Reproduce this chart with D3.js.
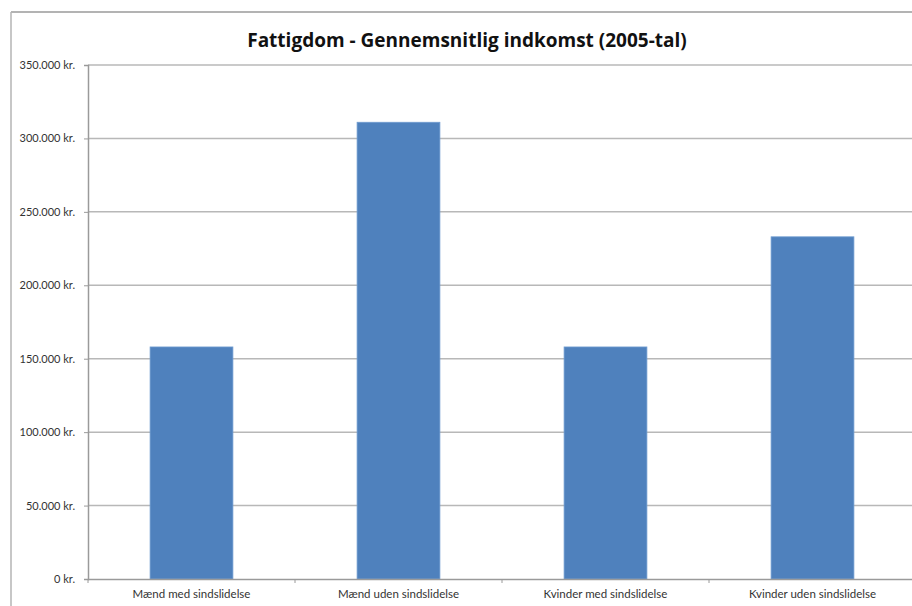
<!DOCTYPE html>
<html><head><meta charset="utf-8">
<script src="https://cdn.jsdelivr.net/npm/d3@7"></script>
<style>
body{margin:0;background:#fff;}
svg{display:block;}
</style></head>
<body>
<svg id="c" width="912" height="606"></svg>
<script>
const categories = ["Mænd med sindslidelse","Mænd uden sindslidelse","Kvinder med sindslidelse","Kvinder uden sindslidelse"];
const values = [158000, 311000, 158000, 233000];
const yTicks = [0,50000,100000,150000,200000,250000,300000,350000];
const title = "Fattigdom - Gennemsnitlig indkomst (2005-tal)";

const svg = d3.select("#c");
const font = "Lato, 'Open Sans', sans-serif";
// frame
svg.append("line").attr("x1",11).attr("x2",912).attr("y1",12).attr("y2",12).attr("stroke","#9a9a9a").attr("stroke-width",1.5);
svg.append("line").attr("x1",11).attr("x2",11).attr("y1",12).attr("y2",606).attr("stroke","#b5b5b5").attr("stroke-width",1.5);

const m = {left:88, right:916, top:65, bottom:579};
const x = d3.scaleBand().domain(categories).range([m.left,m.right]).paddingInner(0.6).paddingOuter(0.3);
const y = d3.scaleLinear().domain([0,350000]).range([m.bottom,m.top]);

// gridlines
svg.append("g").selectAll("line").data(yTicks.filter(d=>d>0)).join("line")
  .attr("x1",m.left).attr("x2",912).attr("y1",d=>y(d)).attr("y2",d=>y(d))
  .attr("stroke","#b8b8b8").attr("stroke-width",1.5);

// bars
svg.append("g").selectAll("rect").data(values).join("rect")
  .attr("x",(d,i)=>x(categories[i])).attr("width",x.bandwidth())
  .attr("y",d=>y(d)).attr("height",d=>y(0)-y(d))
  .attr("fill","#4F81BD").attr("stroke","#6f9bd0").attr("stroke-width",0.8);

// y axis
const fmt = d => d3.format(",")(d).replace(/,/g,".") + " kr.";
const ya = svg.append("g").attr("transform",`translate(${m.left},0)`)
  .call(d3.axisLeft(y).tickValues(yTicks).tickFormat(fmt).tickSize(4).tickPadding(9));
ya.select(".domain").attr("stroke","#9a9a9a").attr("stroke-width",1.5);
ya.selectAll(".tick line").attr("stroke","#9a9a9a");
ya.selectAll("text").attr("font-family",font).attr("font-size",11).attr("fill","#333");

// x axis
const xa = svg.append("g").attr("transform",`translate(0,${m.bottom})`)
  .call(d3.axisBottom(x).tickSize(0).tickPadding(11));
xa.select(".domain").attr("d",`M${m.left},0.5H${m.right}`).attr("stroke","#9a9a9a").attr("stroke-width",1.5);
xa.selectAll("text").attr("font-family",font).attr("font-size",11.5).attr("fill","#333");
// category boundary ticks
const bounds = categories.map((c,i)=>m.left + i*((m.right-m.left)/categories.length));
svg.append("g").selectAll("line").data(bounds).join("line")
  .attr("x1",d=>d).attr("x2",d=>d).attr("y1",m.bottom).attr("y2",m.bottom+4)
  .attr("stroke","#9a9a9a");

// title
svg.append("text").attr("x",467).attr("y",47).attr("text-anchor","middle")
  .attr("font-family","'Open Sans', sans-serif").attr("font-weight","bold").attr("font-size",19).attr("fill","#111")
  .text(title);
</script>
</body></html>
